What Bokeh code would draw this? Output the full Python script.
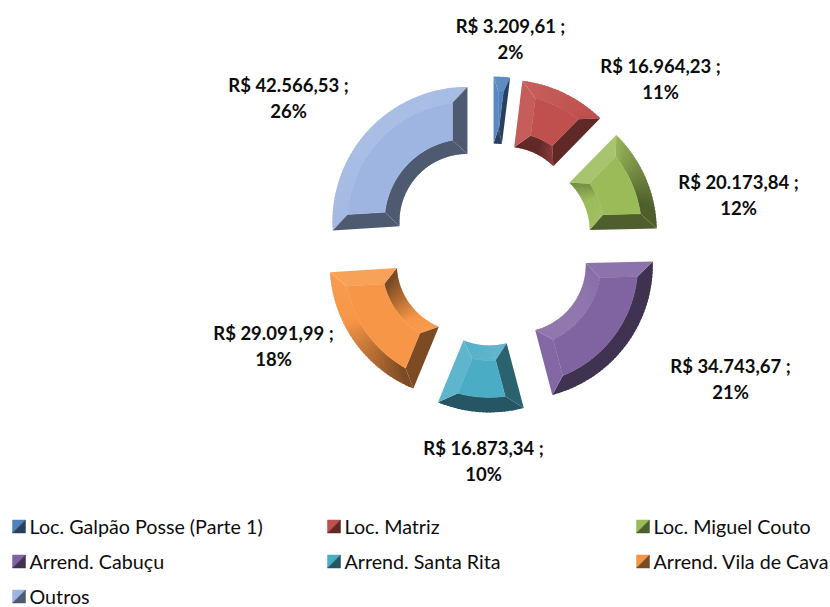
import numpy as np
from bokeh.plotting import figure
from bokeh.models import Range1d
from bokeh.embed import file_html
from bokeh.resources import INLINE
from bokeh.core.properties import value

# ---------------- data ----------------
categories = ["Loc. Galpão Posse (Parte 1)", "Loc. Matriz", "Loc. Miguel Couto",
              "Arrend. Cabuçu", "Arrend. Santa Rita", "Arrend. Vila de Cava", "Outros"]
values = [3209.61, 16964.23, 20173.84, 34743.67, 16873.34, 29091.99, 42566.53]
pct_labels = ["2%", "11%", "12%", "21%", "10%", "18%", "26%"]
colors = ["#4F81BD", "#C0504D", "#9BBB59", "#8064A2", "#4BACC6", "#F79646", "#9DB5E0"]

# ---------------- layout / style ----------------
W, H = 830, 607
CX, CY = 491.0, 244.0
R_OUT, R_IN = 135.0, 68.0
EXPLODE = 33.0
BEVEL = 15.0
LIGHT = np.array([-0.6, -0.8])
LABEL_XY = [(510, 25), (660, 65), (738, 181), (730, 365), (483, 447), (273, 332), (288, 84)]
LINE_GAP = 26
LEG_COLS = [12, 327, 636]
LEG_ROWS = [526, 561, 596]
LEG_BOX = 13


def hex2rgb(h):
    h = h.lstrip("#")
    return np.array([int(h[i:i + 2], 16) for i in (0, 2, 4)], dtype=float)


def rgb2hex(c):
    c = np.clip(np.round(c), 0, 255).astype(int)
    return "#%02x%02x%02x" % tuple(c)


def shade(h, k):
    c = hex2rgb(h)
    if k >= 0:
        c = c + (255 - c) * 0.16 * k
    else:
        c = c * (1 - 0.5 * min(1.0, 1.5 * (-k)))
    return rgb2hex(c)


def direction(th):
    return np.array([np.sin(th), -np.cos(th)])


def pt(c, rho, th):
    return (c[0] + rho * np.sin(th), c[1] - rho * np.cos(th))


p = figure(width=W, height=H, x_range=Range1d(0, W), y_range=Range1d(H, 0),
           output_backend="svg", toolbar_location=None,
           x_axis_type=None, y_axis_type=None, min_border=0)
p.outline_line_color = None
p.background_fill_color = "white"

total = float(sum(values))
fr = np.array(values) / total
cum = np.concatenate([[0], np.cumsum(fr)]) * 2 * np.pi
L = LIGHT / np.linalg.norm(LIGHT)

bx, by, bc = [], [], []   # bevel bands
fx, fy, fc = [], [], []   # faces


def add(poly, col, face=False):
    tx_ = [q[0] for q in poly]
    ty_ = [q[1] for q in poly]
    if face:
        fx.append(tx_); fy.append(ty_); fc.append(col)
    else:
        bx.append(tx_); by.append(ty_); bc.append(col)


for i, col in enumerate(colors):
    th1, th2 = cum[i], cum[i + 1]
    mid = 0.5 * (th1 + th2)
    c = (CX + EXPLODE * np.sin(mid), CY - EXPLODE * np.cos(mid))
    wr = BEVEL
    half = 0.5 * (th2 - th1)
    ws = min(BEVEL, 0.95 * (R_IN + wr) * np.sin(half))
    ai1 = th1 + np.arcsin(ws / (R_IN + wr)); ai2 = th2 - np.arcsin(ws / (R_IN + wr))
    ao1 = th1 + np.arcsin(ws / (R_OUT - wr)); ao2 = th2 - np.arcsin(ws / (R_OUT - wr))
    n = max(2, int(np.degrees(th2 - th1) / 1.5))
    t = np.linspace(th1, th2, n + 1)
    fo = np.linspace(ao1, ao2, n + 1)
    fi = np.linspace(ai1, ai2, n + 1)
    for k in range(n):
        k2 = min(k + 2, n)  # overlap into next segment to hide seams
        tm = 0.5 * (t[k] + t[k + 1])
        ko = float(direction(tm) @ L) - 0.2
        add([pt(c, R_OUT, t[k]), pt(c, R_OUT, 0.5 * (t[k + 1] + t[k2])),
             pt(c, R_OUT - wr, 0.5 * (fo[k + 1] + fo[k2])), pt(c, R_OUT - wr, fo[k])],
            shade(col, ko))
        ki = float(-direction(tm) @ L) - 0.2
        add([pt(c, R_IN, t[k]), pt(c, R_IN, 0.5 * (t[k + 1] + t[k2])),
             pt(c, R_IN + wr, 0.5 * (fi[k + 1] + fi[k2])), pt(c, R_IN + wr, fi[k])],
            shade(col, ki))
    ks = float(direction(th1 - np.pi / 2) @ L) - 0.2
    add([pt(c, R_IN, th1), pt(c, R_OUT, th1), pt(c, R_OUT - wr, ao1), pt(c, R_IN + wr, ai1)],
        shade(col, ks))
    ke = float(direction(th2 + np.pi / 2) @ L) - 0.2
    add([pt(c, R_IN, th2), pt(c, R_OUT, th2), pt(c, R_OUT - wr, ao2), pt(c, R_IN + wr, ai2)],
        shade(col, ke))
    arc_o = [pt(c, R_OUT - wr, a) for a in np.linspace(ao1, ao2, 60)]
    arc_i = [pt(c, R_IN + wr, a) for a in np.linspace(ai2, ai1, 60)]
    add(arc_o + arc_i, col, face=True)

p.patches(xs=bx, ys=by, fill_color=bc, line_color=None)
p.patches(xs=fx, ys=fy, fill_color=fc, line_color=fc, line_width=0.4)


# ---------------- data labels ----------------
def brl(v):
    s = f"{v:,.2f}"
    s = s.replace(",", "X").replace(".", ",").replace("X", ".")
    return f"R$ {s} ;"


lab1 = [brl(v) for v in values]
lx = [q[0] for q in LABEL_XY]
ly1 = [q[1] for q in LABEL_XY]
ly2 = [q[1] + LINE_GAP for q in LABEL_XY]
for yy, tt in ((ly1, lab1), (ly2, pct_labels)):
    p.text(x=lx, y=yy, text=tt, text_align="center", text_baseline="middle",
           text_font=value("Lato"), text_font_style="bold", text_font_size="18.5px",
           text_color="#0d0d0d")

# ---------------- legend ----------------
kx, ky, kc, tx, tyy = [], [], [], [], []
for i, name in enumerate(categories):
    col_i, row_i = i % 3, i // 3
    x0 = LEG_COLS[col_i]
    yc = LEG_ROWS[row_i]
    y0 = yc - LEG_BOX / 2
    x1, y1 = x0 + LEG_BOX, y0 + LEG_BOX
    kx.append([x0, x1, x0]); ky.append([y0, y0, y1]); kc.append(colors[i])
    kx.append([x1, x1, x0]); ky.append([y0, y1, y1]); kc.append(shade(colors[i], -0.9))
    tx.append(x1 + 4); tyy.append(yc)
p.patches(xs=kx, ys=ky, fill_color=kc, line_color=kc, line_width=0.5)
p.text(x=tx, y=tyy, text=categories, text_align="left", text_baseline="middle",
       text_font=value("Lato"), text_font_size="19.7px", text_color="#0d0d0d")

open("out.html", "w").write(file_html(p, INLINE))
